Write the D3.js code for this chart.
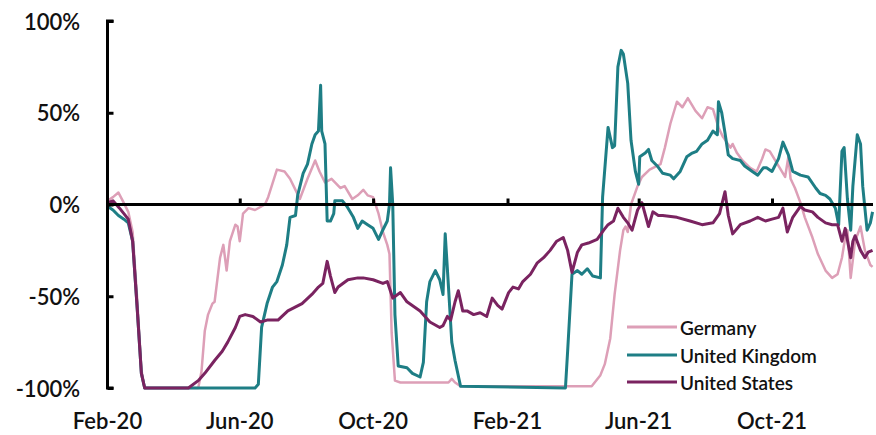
<!DOCTYPE html>
<html>
<head>
<meta charset="utf-8">
<script src="https://cdn.jsdelivr.net/npm/d3@7"></script>
<style>
  html, body { margin: 0; padding: 0; background: #fff; }
  svg { display: block; }
  text { font-family: Lato, "Open Sans", sans-serif; fill: #111; font-weight: 600; }
</style>
</head>
<body>
<div id="chart"></div>
<script>
// ---- Data (day = days since 1 Feb 2020, value = % change) ----
const seriesNames = ["Germany", "United Kingdom", "United States"];
const seriesColors = ["#DD9FB7", "#1E7E85", "#7A2360"];

const germanyDays = [0,5,10,14,19,23,27,31,34,83,86,89,92,96,98,103,106,109,112,117,119,121,124,129,135,144,147,155,162,167,172,176,183,190,194,199,205,213,217,224,229,234,238,243,248,252,256,258,260,263,268,312,315,318,323,419,443,447,451,455,460,464,469,472,474,476,479,485,489,496,506,510,515,521,526,531,538,544,549,554,559,563,570,572,576,581,588,594,599,602,606,613,617,620,623,625,629,634,638,645,650,657,663,668,672,675,677,680,684,689,693,698,700];
const germanyValues = [2,4,6.5,2,-4,-15,-50,-90,-100,-100,-91,-69,-60,-54,-53,-29,-22,-36,-20,-11,-12,-20,-5,-2,-3,0,4,19,18,14,8,3,14,24,18,12,14,9,10,3,5,8,5,4,-5,-15,-22,-27,-70,-96,-97,-97,-95,-97,-99,-99,-99,-96,-93,-87,-73,-49,-25,-14,-12,-15,0,10,15,19,22,31,44,56,53,58,51,47,53,52,42,37,31,33,28,24,20,18,25,30,29,22,18,15,26,14,9,1,-7,-18,-27,-36,-40,-38,-29,-18,-14,-40,-20,-12,-25,-33,-34];

const ukDays = [0,5,10,15,19,23,27,31,34,135,138,141,146,151,155,160,164,167,172,174,179,183,187,190,193,195,196,199,201,204,207,208,215,219,225,229,233,238,243,248,251,256,258,259,261,263,266,274,279,286,289,292,295,300,304,307,309,312,315,318,323,419,421,425,430,434,439,444,451,453,458,462,464,467,470,472,476,479,483,486,487,492,495,498,503,508,515,518,524,530,535,539,544,549,554,558,559,562,565,568,572,579,583,590,595,600,603,608,614,618,623,627,634,641,648,652,657,661,666,669,672,674,677,680,682,686,689,691,695,698,700];
const ukValues = [-1,-3,-6,-8,-10,-20,-55,-92,-100,-100,-98,-67,-54,-45,-42,-33,-22,-7,-6,5,17,22,33,38,40,65,40,33,-9,-9,-5,2,2,-1,-7,-13,-9,-11,-13,-19,-15,-9,0,20,0,-60,-88,-89,-92,-94,-86,-53,-42,-36,-41,-49,-16,-45,-75,-85,-99,-100,-80,-38,-36,-38,-35,-39,-40,4,42,31,32,75,84,82,66,35,18,11,26,28,30,24,21,17,16,14,18,26,28,29,33,35,40,38,56,50,39,27,25,24,21,18,16,20,20,18,25,34,27,18,16,15,9,6,5,3,-2,-11,29,31,3,-14,10,38,33,10,-14,-10,-4];

const usDays = [0,5,11,19,23,27,31,34,74,83,89,98,105,110,117,121,126,133,140,146,156,165,178,187,193,197,201,204,208,211,220,229,234,243,252,256,261,268,274,286,295,304,307,311,314,318,321,325,329,335,341,347,352,357,361,367,371,376,380,387,393,399,405,411,417,421,425,430,434,440,448,454,458,463,467,472,476,480,485,489,495,499,504,508,521,533,544,554,560,565,568,572,579,588,595,602,608,614,618,622,627,634,638,645,650,657,663,668,672,675,680,682,684,689,693,696,700];
const usValues = [1,2,-2,-8,-20,-55,-92,-100,-100,-96,-92,-85,-80,-75,-67,-61,-60,-61,-64,-63,-63,-58,-54,-49,-45,-43,-31,-39,-48,-45,-41,-40,-40,-41,-43,-42,-51,-48,-53,-58,-64,-67,-66,-61,-63,-53,-47,-58,-58,-60,-59,-61,-51,-55,-57,-48,-45,-46,-42,-38,-32,-29,-25,-20,-18,-25,-37,-26,-22,-21,-19,-14,-11,-9,-2,-7,-10,-14,-3,1,-12,-4,-6,-6,-7,-9,-11,-10,-5,7,-6,-16,-11,-9,-7,-9,-8,-7,-2,-15,-7,-1,-3,-4,-7,-10,-11,-11,-20,-13,-29,-20,-17,-25,-29,-26,-25];

const yTickValues = [100, 50, 0, -50, -100];
const xTickLabels = ["Feb-20", "Jun-20", "Oct-20", "Feb-21", "Jun-21", "Oct-21"];
const xTickDates = ["2020-02-01", "2020-06-01", "2020-10-01", "2021-02-01", "2021-06-01", "2021-10-01"];

// ---- Setup ----
const W = 876, H = 435;
const startDate = new Date(2020, 1, 1);
const parse = d3.timeParse("%Y-%m-%d");
const toDate = d => d3.timeDay.offset(startDate, d);

const svg = d3.select("#chart").append("svg").attr("width", W).attr("height", H);

const x = d3.scaleTime()
  .domain([parse("2020-02-01"), parse("2021-10-01")])
  .range([107.5, 772]);
const y = d3.scaleLinear().domain([-100, 100]).range([388, 21]);

const series = [
  {name: seriesNames[0], color: seriesColors[0], width: 2.5, pts: germanyDays.map((d, i) => [toDate(d), germanyValues[i]])},
  {name: seriesNames[1], color: seriesColors[1], width: 3, pts: ukDays.map((d, i) => [toDate(d), ukValues[i]])},
  {name: seriesNames[2], color: seriesColors[2], width: 3, pts: usDays.map((d, i) => [toDate(d), usValues[i]])}
];

const line = d3.line().x(d => x(d[0])).y(d => y(d[1]));

// Lines
series.forEach(s => {
  svg.append("path")
    .datum(s.pts)
    .attr("fill", "none")
    .attr("stroke", s.color)
    .attr("stroke-width", s.width)
    .attr("stroke-linejoin", "round")
    .attr("d", line);
});

// Y axis
const yAxis = d3.axisRight(y).tickValues(yTickValues).tickSize(6).tickFormat("");
const yg = svg.append("g").attr("transform", `translate(${x(parse("2020-02-01"))},0)`).call(yAxis);
yg.select(".domain").attr("stroke", "#000").attr("stroke-width", 3).attr("d", `M6,${y(100)}H0V${y(-100)}H6`);
yg.selectAll(".tick line").attr("stroke", "#000").attr("stroke-width", 3);

// Y labels
svg.append("g").selectAll("text").data(yTickValues).join("text")
  .attr("x", 80).attr("y", d => y(d))
  .attr("text-anchor", "end").attr("dominant-baseline", "central")
  .style("font-size", "22px")
  .text(d => d + "%");

// X axis at zero
const xTicks = xTickDates.map(parse);
const xAxis = d3.axisTop(x).tickValues(xTicks.slice(1)).tickSize(6).tickFormat("");
const xg = svg.append("g").attr("transform", `translate(0,${y(0)})`).call(xAxis);
xg.select(".domain").attr("stroke", "#000").attr("stroke-width", 3).attr("d", `M${x(parse("2020-02-01"))},0H873`);
xg.selectAll(".tick line").attr("stroke", "#000").attr("stroke-width", 3);

// X labels
svg.append("g").selectAll("text").data(xTicks).join("text")
  .attr("x", d => x(d)).attr("y", 429)
  .attr("text-anchor", "middle")
  .style("font-size", "22px")
  .text((d, i) => xTickLabels[i]);

// Legend
const lg = svg.append("g");
const legendY = [327, 355, 382];
series.forEach((s, i) => {
  lg.append("line").attr("x1", 627).attr("x2", 677).attr("y1", legendY[i]).attr("y2", legendY[i])
    .attr("stroke", s.color).attr("stroke-width", 3);
  lg.append("text").attr("x", 680).attr("y", legendY[i]).attr("dominant-baseline", "central")
    .style("font-size", "19px")
    .text(s.name);
});
</script>
</body>
</html>
